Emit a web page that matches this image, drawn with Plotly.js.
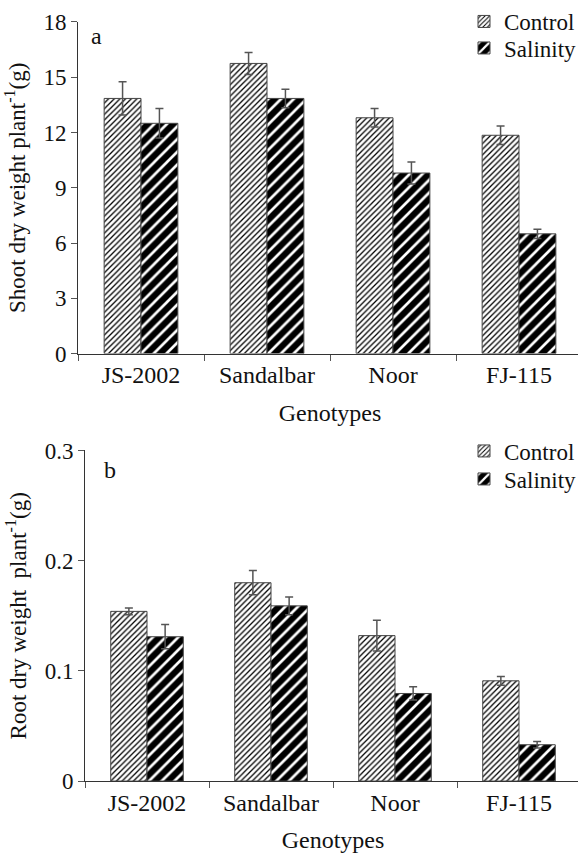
<!DOCTYPE html>
<html>
<head>
<meta charset="utf-8">
<script src="https://cdn.plot.ly/plotly-3.0.1.min.js"></script>
<style>
  html, body { margin: 0; padding: 0; overflow: hidden; background: #fff; }
  #chart { width: 600px; height: 856px; }
</style>
</head>
<body>
<div id="chart"></div>
<script>
// ---- Data ----
const genotypes = ["JS-2002", "Sandalbar", "Noor", "FJ-115"];

const shootControl      = [13.85, 15.75, 12.8, 11.85];
const shootControlErr   = [0.9, 0.6, 0.5, 0.5];
const shootSalinity     = [12.5, 13.85, 9.8, 6.5];
const shootSalinityErr  = [0.8, 0.5, 0.6, 0.25];

const rootControl       = [0.154, 0.18, 0.132, 0.091];
const rootControlErr    = [0.003, 0.011, 0.014, 0.004];
const rootSalinity      = [0.131, 0.159, 0.0795, 0.033];
const rootSalinityErr   = [0.011, 0.008, 0.006, 0.003];

const seriesNames = ["Control", "Salinity"];
const xTitle = "Genotypes";
const yTitleTop = "Shoot dry weight plant<sup>-1</sup>(g)";
const yTitleBottom = "Root dry weight  plant<sup>-1</sup>(g)";

// ---- Styling ----
const FONT = "Liberation Serif";
const W = 600, H = 856;
const px = v => v / W;
const py = v => 1 - v / H;

const controlPattern  = {shape: "/", fgcolor: "#000", bgcolor: "#fff", size: 4, solidity: 0.32};
const salinityPattern = {shape: "/", fgcolor: "#fff", bgcolor: "#000", size: 9, solidity: 0.3};
const errStyle = {color: "#555", thickness: 1.5, width: 4};

function bar(name, x, y, err, pattern, xa, ya, legend) {
  return {
    type: "bar", name: name, x: x, y: y,
    xaxis: xa, yaxis: ya, legend: legend, showlegend: true,
    marker: {color: pattern.bgcolor, pattern: pattern, line: {color: "#444", width: 1}},
    error_y: Object.assign({type: "data", array: err, visible: true}, errStyle),
    hoverinfo: "skip"
  };
}

const data = [
  bar(seriesNames[0], genotypes, shootControl, shootControlErr, controlPattern, "x", "y", "legend"),
  bar(seriesNames[1], genotypes, shootSalinity, shootSalinityErr, salinityPattern, "x", "y", "legend2"),
  bar(seriesNames[0], genotypes, rootControl, rootControlErr, controlPattern, "x2", "y2", "legend3"),
  bar(seriesNames[1], genotypes, rootSalinity, rootSalinityErr, salinityPattern, "x2", "y2", "legend4")
];

function xAxis(domain, anchor) {
  return {
    type: "category", range: [-0.5, 3.5], domain: domain, anchor: anchor,
    showline: true, linecolor: "#333", linewidth: 1,
    ticks: "outside", tickson: "boundaries", ticklen: 6, tickcolor: "#555", tickwidth: 1,
    showgrid: false, zeroline: false,
    tickfont: {family: FONT, size: 24, color: "#111"},
    title: {text: xTitle, font: {family: FONT, size: 24, color: "#111"}, standoff: 16},
    automargin: false, fixedrange: true
  };
}
function yAxis(domain, anchor, range, dtick, title) {
  return {
    domain: domain, anchor: anchor, range: range, dtick: dtick, tick0: 0,
    showline: true, linecolor: "#333", linewidth: 1,
    ticks: "outside", ticklen: 6, tickcolor: "#555", tickwidth: 1,
    showgrid: false, zeroline: false,
    tickfont: {family: FONT, size: 23, color: "#111"},
    title: {text: title, font: {family: FONT, size: 23, color: "#111"}, standoff: 11},
    automargin: false, fixedrange: true
  };
}

function legendAt(xPix, yCenterPix) {
  return {
    x: px(xPix), y: py(yCenterPix), xanchor: "left", yanchor: "middle",
    font: {family: FONT, size: 23, color: "#111"},
    bgcolor: "rgba(0,0,0,0)", borderwidth: 0, itemwidth: 30
  };
}

const layout = {
  width: W, height: H,
  margin: {l: 0, r: 0, t: 0, b: 0},
  paper_bgcolor: "#fff", plot_bgcolor: "#fff",
  font: {family: FONT, size: 23, color: "#111"},
  barmode: "group", bargap: 0.415, bargroupgap: 0,
  showlegend: true,
  xaxis: xAxis([px(78), px(582)], "y"),
  xaxis2: xAxis([px(85), px(581)], "y2"),
  yaxis: yAxis([py(353), py(21)], "x", [0, 18], 3, yTitleTop),
  yaxis2: yAxis([py(781), py(450)], "x2", [0, 0.3], 0.1, yTitleBottom),
  legend: legendAt(464, 21),
  legend2: legendAt(464, 48),
  legend3: legendAt(464, 451),
  legend4: legendAt(464, 479),
  annotations: [
    {text: "a", xref: "paper", yref: "paper", x: px(97), y: py(35), showarrow: false,
     font: {family: FONT, size: 24, color: "#111"}, xanchor: "center", yanchor: "middle"},
    {text: "b", xref: "paper", yref: "paper", x: px(110), y: py(470), showarrow: false,
     font: {family: FONT, size: 24, color: "#111"}, xanchor: "center", yanchor: "middle"}
  ]
};

Plotly.newPlot("chart", data, layout, {staticPlot: true, displayModeBar: false});
</script>
</body>
</html>
